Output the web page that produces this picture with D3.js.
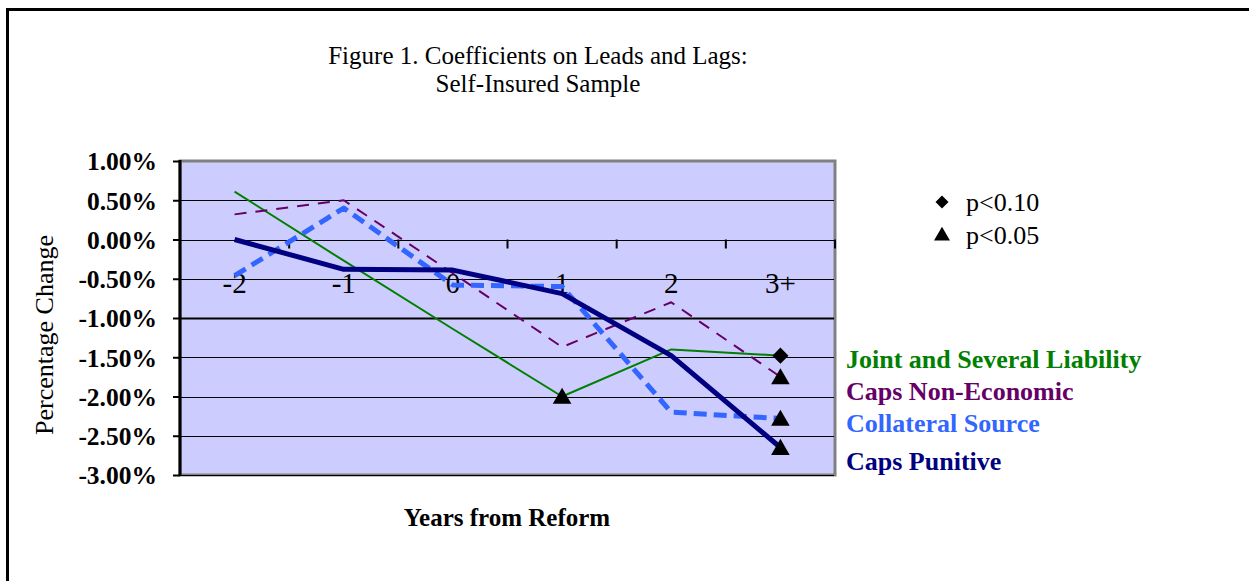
<!DOCTYPE html>
<html lang="en">
<head>
  <meta charset="UTF-8" />
  <title>Figure 1. Coefficients on Leads and Lags</title>
  <script src="https://d3js.org/d3.v7.min.js"></script>
  <style>
    body {
      margin: 0;
      padding: 0;
      background-color: white;
      font-family: "Liberation Serif", "DejaVu Serif", serif;
    }

    .grid-line {
      stroke: black;
      stroke-width: 1px;
    }

    .series-label {
      font-size: 26px;
      font-weight: bold;
    }
  </style>
</head>
<body>
  <svg id="chart" width="1249" height="581"></svg>

  <script>
    // Categories on the x axis and y tick values (percent)
    const years = ["-2", "-1", "0", "1", "2", "3+"];
    const yTicks = [1.0, 0.5, 0.0, -0.5, -1.0, -1.5, -2.0, -2.5, -3.0];

    // Series values (percent)
    const jointSeveral = [0.61, -0.27, -1.14, -2.0, -1.4, -1.48];
    const capsNonEcon  = [0.32, 0.5, -0.43, -1.37, -0.8, -1.75];
    const collateral   = [-0.46, 0.4, -0.58, -0.6, -2.2, -2.28];
    const capsPunitive = [0.0, -0.38, -0.39, -0.69, -1.48, -2.65];

    // Significance markers: series index, category index, marker shape
    const markers = [
      { s: 0, i: 3, shape: "triangle" },
      { s: 0, i: 5, shape: "diamond" },
      { s: 1, i: 5, shape: "triangle" },
      { s: 2, i: 5, shape: "triangle" },
      { s: 3, i: 5, shape: "triangle" }
    ];

    const series = [
      { name: "Joint and Several Liability", values: jointSeveral, color: "#008000", width: 2, dash: null },
      { name: "Caps Non-Economic", values: capsNonEcon, color: "#660066", width: 2, dash: "12,9" },
      { name: "Collateral Source", values: collateral, color: "#3366FF", width: 5, dash: "13,7" },
      { name: "Caps Punitive", values: capsPunitive, color: "#000080", width: 5, dash: null }
    ];

    const plot = { left: 180, top: 161, right: 835, bottom: 475 };

    const svg = d3.select("#chart");

    // outer frame (top and left edges only)
    svg.append("line")
      .attr("x1", 6).attr("x2", 1249)
      .attr("y1", 9.5).attr("y2", 9.5)
      .attr("stroke", "black").attr("stroke-width", 3);
    svg.append("line")
      .attr("x1", 7.5).attr("x2", 7.5)
      .attr("y1", 8).attr("y2", 581)
      .attr("stroke", "black").attr("stroke-width", 3);

    // title
    const title = svg.append("text")
      .attr("text-anchor", "middle")
      .style("font-size", "25px");
    title.append("tspan").attr("x", 538).attr("y", 64).text("Figure 1. Coefficients on Leads and Lags:");
    title.append("tspan").attr("x", 538).attr("y", 92).text("Self-Insured Sample");

    const x = d3.scaleBand().domain(years).range([plot.left, plot.right]);
    const y = d3.scaleLinear().domain([-3, 1]).range([plot.bottom, plot.top]);

    // plot area background with grey frame
    svg.append("rect")
      .attr("x", plot.left).attr("y", plot.top)
      .attr("width", plot.right - plot.left)
      .attr("height", plot.bottom - plot.top)
      .attr("fill", "#CCCCFF")
      .attr("stroke", "#808080")
      .attr("stroke-width", 3);

    // horizontal gridlines
    svg.selectAll(".grid-line")
      .data(yTicks.filter(d => d !== 1.0))
      .join("line")
      .attr("class", "grid-line")
      .attr("x1", plot.left).attr("x2", plot.right - 1)
      .attr("y1", d => Math.round(y(d)) + 0.5)
      .attr("y2", d => Math.round(y(d)) + 0.5)
      .style("stroke-width", d => d === -1.0 ? 2 : 1);

    // y axis, plain hyphen for negatives
    const yAxis = d3.axisLeft(y)
      .tickValues(yTicks)
      .tickSize(7)
      .tickFormat(d => d.toFixed(2) + "%");

    const yg = svg.append("g")
      .attr("transform", `translate(${plot.left},0)`)
      .call(yAxis);
    yg.select(".domain").attr("stroke-width", 3).attr("d", `M0,${plot.top - 1}V${plot.bottom + 1}`);
    yg.selectAll(".tick line").attr("stroke-width", 2);
    yg.selectAll(".tick text")
      .attr("x", -23)
      .attr("dy", "0.35em")
      .attr("fill", "black")
      .style("font-family", "'Liberation Serif', serif")
      .style("font-size", "25.5px")
      .style("font-weight", "bold");

    // x axis crossing at zero, with tick marks between categories
    const xAxisY = y(0);
    const bounds = d3.range(years.length + 1).map(i => plot.left + i * x.bandwidth());
    svg.selectAll(".x-tick")
      .data(bounds)
      .join("line")
      .attr("class", "x-tick")
      .attr("x1", d => d).attr("x2", d => d)
      .attr("y1", xAxisY).attr("y2", xAxisY + 9)
      .attr("stroke", "black").attr("stroke-width", 2);

    svg.selectAll(".x-label")
      .data(years)
      .join("text")
      .attr("class", "x-label")
      .attr("x", d => x(d) + x.bandwidth() / 2)
      .attr("y", xAxisY + 53)
      .attr("text-anchor", "middle")
      .style("font-size", "29px")
      .text(d => d);

    // lines
    const line = d3.line()
      .x((d, i) => x(years[i]) + x.bandwidth() / 2)
      .y(d => y(d));

    svg.selectAll(".series-line")
      .data(series)
      .join("path")
      .attr("class", "series-line")
      .attr("d", d => line(d.values))
      .attr("fill", "none")
      .attr("stroke", d => d.color)
      .attr("stroke-width", d => d.width)
      .attr("stroke-dasharray", d => d.dash)
      .attr("stroke-linejoin", "round");

    // significance markers
    const triangle = d3.symbol().type(d3.symbolTriangle).size(150);
    const diamond = d3.symbol().type(d3.symbolSquare).size(130);

    svg.selectAll(".marker")
      .data(markers)
      .join("path")
      .attr("class", "marker")
      .attr("d", d => d.shape === "triangle" ? triangle() : diamond())
      .attr("transform", d => {
        const cx = x(years[d.i]) + x.bandwidth() / 2;
        const cy = y(series[d.s].values[d.i]);
        return d.shape === "triangle"
          ? `translate(${cx},${cy + 2})`
          : `translate(${cx},${cy}) rotate(45)`;
      })
      .attr("fill", "black");

    // significance legend
    const sigLegend = [
      { label: "p<0.10", shape: "diamond" },
      { label: "p<0.05", shape: "triangle" }
    ];
    const sig = svg.selectAll(".sig")
      .data(sigLegend)
      .join("g")
      .attr("class", "sig")
      .attr("transform", (d, i) => `translate(942,${202 + i * 33})`);
    sig.append("path")
      .attr("d", d => d.shape === "triangle"
        ? d3.symbol().type(d3.symbolTriangle).size(110)()
        : d3.symbol().type(d3.symbolSquare).size(85)())
      .attr("transform", d => d.shape === "diamond" ? "rotate(45)" : "translate(0,1)")
      .attr("fill", "black");
    sig.append("text")
      .attr("x", 24)
      .attr("dy", "0.35em")
      .style("font-size", "26px")
      .text(d => d.label);

    // series labels
    svg.selectAll(".series-label")
      .data(series)
      .join("text")
      .attr("class", "series-label")
      .attr("x", 846)
      .attr("y", (d, i) => [368, 400, 432, 470][i])
      .attr("fill", d => d.color)
      .text(d => d.name);

    // axis titles
    svg.append("text")
      .attr("transform", "translate(53,335) rotate(-90)")
      .attr("text-anchor", "middle")
      .style("font-size", "26px")
      .text("Percentage Change");

    svg.append("text")
      .attr("x", 507)
      .attr("y", 526)
      .attr("text-anchor", "middle")
      .style("font-size", "25px")
      .style("font-weight", "bold")
      .text("Years from Reform");
  </script>
</body>
</html>
